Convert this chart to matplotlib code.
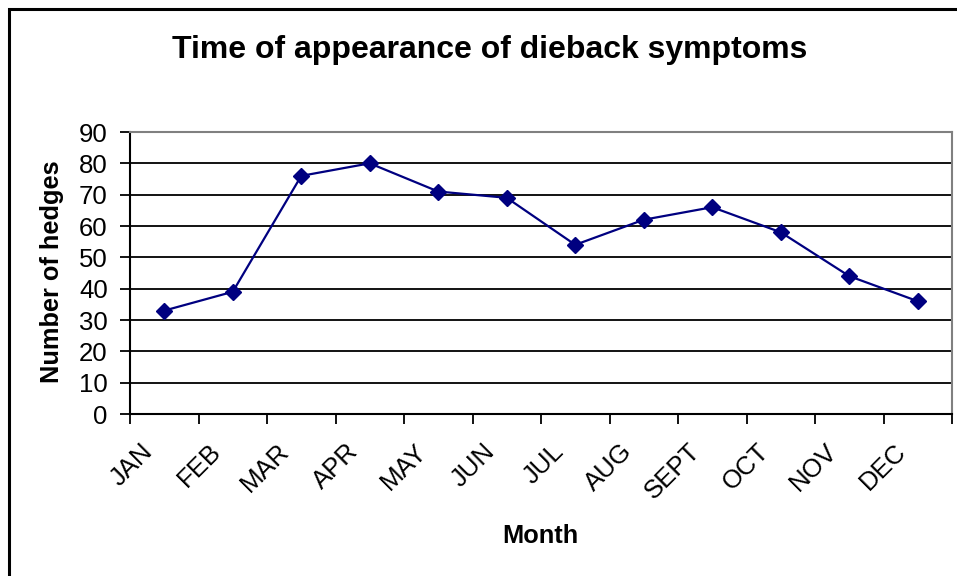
import matplotlib
matplotlib.use("Agg")
import matplotlib.pyplot as plt
import matplotlib.transforms as mtransforms
from matplotlib.patches import Rectangle

plt.rcParams['font.family'] = ['Liberation Sans', 'DejaVu Sans']

months = ['JAN', 'FEB', 'MAR', 'APR', 'MAY', 'JUN', 'JUL', 'AUG', 'SEPT', 'OCT', 'NOV', 'DEC']
hedges = [33, 39, 76, 80, 71, 69, 54, 62, 66, 58, 44, 36]
yticks = [0, 10, 20, 30, 40, 50, 60, 70, 80, 90]

W, H = 957, 576
fig = plt.figure(figsize=(W / 100, H / 100), dpi=100)
# plot area in pixels: x 130..952, y 132..414
ax = fig.add_axes([130 / W, 1 - 414 / H, (952 - 130) / W, (414 - 132) / H])

# outer chart border (right/bottom fall outside the image)
fig.patches.append(Rectangle((9 / W, -0.1), 1.2, 1 - 9 / H + 0.1, transform=fig.transFigure,
                             fill=False, edgecolor='black', linewidth=2.2))

x = list(range(len(months)))
ax.plot(x, hedges, color='#000080', linewidth=1.6, marker='D', markersize=8,
        markerfacecolor='#000080', markeredgecolor='#000080', zorder=3)

ax.set_xlim(-0.5, len(months) - 0.5)
ax.set_ylim(0, 90)
ax.set_yticks(yticks)
for v in yticks[1:-1]:
    ax.axhline(v, color='black', linewidth=1.3, zorder=1)

# category ticks between months, labels at centers
ax.set_xticks([i - 0.5 for i in range(len(months) + 1)])
ax.set_xticklabels([])
ax.set_xticks(x, minor=True)
ax.set_xticklabels(months, minor=True, rotation=45, ha='right', rotation_mode='anchor',
                   fontsize=18.5)
ax.tick_params(axis='x', which='minor', length=0, pad=18)
offset = mtransforms.ScaledTranslation(-0.24, 0, fig.dpi_scale_trans)
for lab in ax.get_xticklabels(minor=True):
    lab.set_transform(lab.get_transform() + offset)
ax.tick_params(axis='x', which='major', length=7, width=1.3, direction='out')
ax.tick_params(axis='y', length=7, width=1.3, direction='out', labelsize=18.5, pad=9)

for s in ['left', 'bottom']:
    ax.spines[s].set_color('black')
    ax.spines[s].set_linewidth(1.5)
for s in ['top', 'right']:
    ax.spines[s].set_color('#808080')
    ax.spines[s].set_linewidth(1.5)

fig.text(490 / W, 1 - 50 / H, 'Time of appearance of dieback symptoms', ha='center', va='center',
         fontsize=23, fontweight='bold')
fig.text(540 / W, 1 - 536 / H, 'Month', ha='center', va='center', fontsize=18.3, fontweight='bold')
fig.text(52 / W, 1 - 272 / H, 'Number of hedges', ha='center', va='center', rotation=90,
         fontsize=18.3, fontweight='bold')

fig.savefig('out.png', dpi=100)
